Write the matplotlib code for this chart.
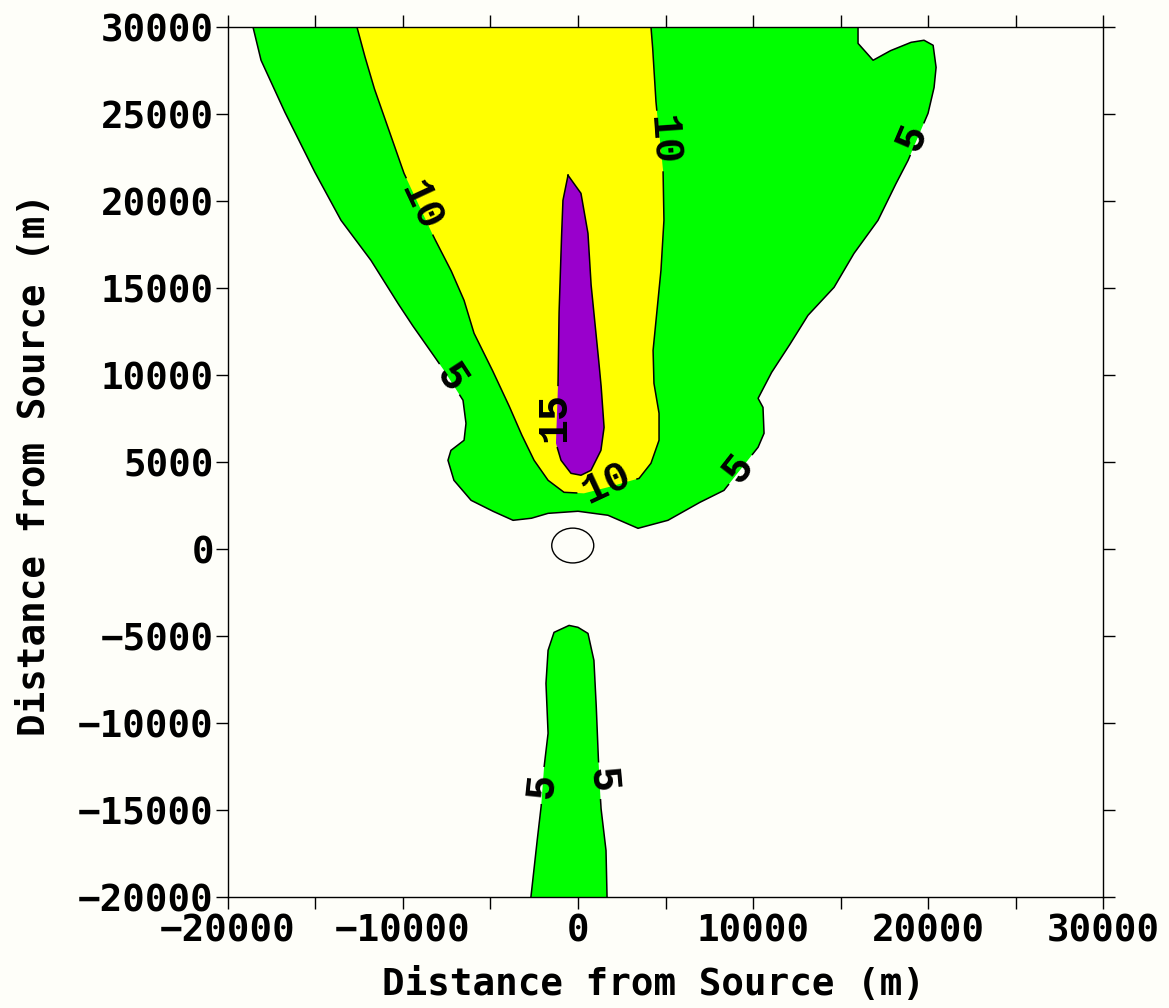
import numpy as np
import matplotlib
matplotlib.use("Agg")
import matplotlib.pyplot as plt
from matplotlib.patches import Ellipse

# contour outlines, metres from the source
# level 5 (green), upper plume
green_x = [-18570, -18110, -16800, -15090, -13540, -11830, -10400, -9540, -8570,
           -7660, -6570, -6400, -6510, -7260, -7430, -7090, -6110, -4970, -3710,
           -2690, -1710, 0, 1710, 3430, 5140, 6860, 8340, 10290, 10630, 10570,
           10290, 11030, 12000, 13140, 14630, 15770, 17140, 18060, 18860, 20000,
           20340, 20460, 20290, 19770, 19030, 17890, 16860, 16000, 16000]
green_y = [30000, 28090, 25210, 21760, 18890, 16590, 14290, 12970, 11590,
           10270, 8550, 7220, 6250, 5670, 5100, 3950, 2800, 2220, 1650,
           1760, 2050, 2170, 1940, 1190, 1650, 2630, 3370, 5850, 6650, 8140,
           8660, 10100, 11590, 13430, 15040, 16990, 18890, 20790, 22340, 25040,
           26480, 27680, 28950, 29240, 29120, 28660, 28090, 29060, 30000]

# level 5 (green), lobe south of the source
lobe_x = [-2690, -2400, -2110, -1940, -1710, -1830, -1710, -1370, -510, 0,
          570, 910, 1030, 1140, 1310, 1600, 1660]
lobe_y = [-20000, -17320, -14850, -12550, -10590, -7720, -5820, -4790, -4390, -4500,
          -4850, -6400, -8700, -11570, -14850, -17320, -20000]

# level 10 (yellow)
yellow_x = [-12630, -12230, -11660, -10860, -9940, -8230, -7260, -6510, -5940,
            -4970, -4000, -3260, -2510, -1710, -800, 340, 1710, 3490, 4170,
            4630, 4630, 4340, 4290, 4460, 4740, 4910, 4860, 4460, 4290, 4170]
yellow_y = [30000, 28490, 26530, 24240, 21590, 17910, 16020, 14290, 12400,
            10440, 8370, 6650, 5100, 3950, 3260, 3200, 3550, 4060, 4930,
            6250, 7800, 9520, 11420, 13140, 16020, 18890, 21760, 25620, 28490, 30000]

# level 15 (purple)
purple_x = [-570, 170, 570, 740, 1030, 1310, 1490, 1310, 740, 170, -400,
            -970, -1260, -1140, -1090, -970, -860]
purple_y = [21480, 20440, 18140, 15270, 12400, 9520, 6990, 5670, 4520, 4240, 4350,
            5100, 6080, 9520, 13320, 17170, 20040]

# contour labels
label_text = ['10', '10', '10', '15', '5', '5', '5', '5', '5']
label_level = [10, 10, 10, 15, 5, 5, 5, 5, 5]
label_x = [-8970, 4860, 1600, -1370, -7260, 19140, 9200, -2060, 1370]
label_y = [19700, 23490, 3780, 7570, 9810, 23660, 4640, -13580, -13290]
label_rot = [-65, -86, 25, 90, -57, 67, 52, 84, -85]

# source marker
source_x, source_y = -300, 200
source_w, source_h = 2400, 2000

bg = '#fefef9'
tick_font = {'family': 'DejaVu Sans Mono', 'weight': 'bold', 'size': 27}


def broken_line(xs, ys, level, closed=False):
    xs = list(xs)
    ys = list(ys)
    if closed:
        xs.append(xs[0])
        ys.append(ys[0])
    px, py = [], []
    for i in range(len(xs) - 1):
        px.extend(np.linspace(xs[i], xs[i + 1], 30, endpoint=False))
        py.extend(np.linspace(ys[i], ys[i + 1], 30, endpoint=False))
    px.append(xs[-1])
    py.append(ys[-1])
    px = np.array(px, dtype=float)
    py = np.array(py, dtype=float)
    keep = np.ones(len(px), dtype=bool)
    for t, lv, lx, ly in zip(label_text, label_level, label_x, label_y):
        if lv != level:
            continue
        r = 1750 if len(t) > 1 else 1050
        keep &= np.hypot(px - lx, py - ly) > r
    px[~keep] = np.nan
    py[~keep] = np.nan
    return px, py


fig = plt.figure(figsize=(11.69, 10.08), dpi=100, facecolor=bg)
ax = fig.add_axes([0.1950, 0.1101, 0.7486, 0.8631])
ax.set_facecolor(bg)

ax.fill(green_x, green_y, color='#00ff00', lw=0)
ax.fill(lobe_x, lobe_y, color='#00ff00', lw=0)
ax.fill(yellow_x, yellow_y, color='#ffff00', lw=0)
ax.fill(purple_x, purple_y, color='#9900cc', lw=0)

for xs, ys, lv, cl in [(green_x, green_y, 5, False), (lobe_x, lobe_y, 5, False),
                       (yellow_x, yellow_y, 10, False), (purple_x, purple_y, 15, True)]:
    lx, ly = broken_line(xs, ys, lv, cl)
    ax.plot(lx, ly, color='black', lw=1.1)

for t, lx, ly, rot in zip(label_text, label_x, label_y, label_rot):
    ax.text(lx, ly, t, rotation=rot, ha='center', va='center',
            rotation_mode='anchor', family='Liberation Mono', weight='bold',
            fontsize=30, color='black')

ax.add_patch(Ellipse((source_x, source_y), source_w, source_h,
                     fill=False, edgecolor='black', lw=1.0))

ax.set_xlim(-20000, 30000)
ax.set_ylim(-20000, 30000)
ax.set_xticks(np.arange(-20000, 30001, 10000))
ax.set_xticks(np.arange(-15000, 30000, 10000), minor=True)
ax.set_yticks(np.arange(-20000, 30001, 5000))
ax.tick_params(which='both', direction='out', length=8.6, width=1.0,
               top=True, right=True, color='black')
ax.tick_params(axis='y', pad=1.5)
ax.tick_params(axis='x', pad=3)
for lab in ax.get_xticklabels() + ax.get_yticklabels():
    lab.set_fontproperties(tick_font)
for s in ax.spines.values():
    s.set_linewidth(1.0)

fig.text(0.5586, 0.0228, 'Distance from Source (m)', ha='center', va='center',
         **tick_font)
fig.text(0.0300, 0.5387, 'Distance from Source (m)', ha='center', va='center',
         rotation=90, **tick_font)

fig.savefig('out.png', dpi=100, facecolor=bg)
